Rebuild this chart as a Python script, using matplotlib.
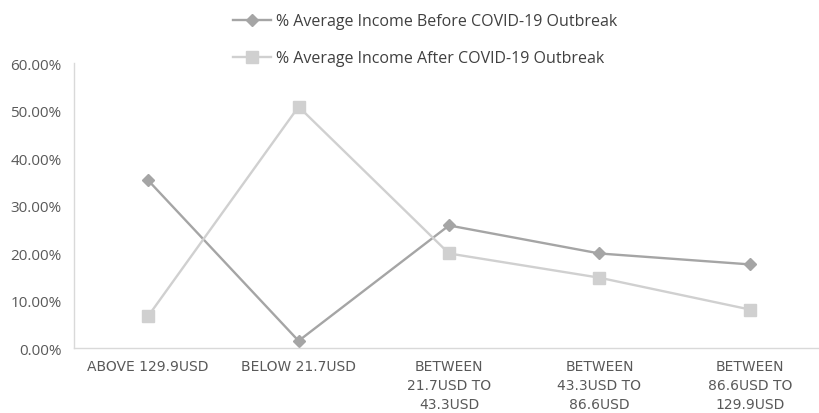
import numpy as np
import matplotlib.pyplot as plt

categories = ["ABOVE 129.9USD", "BELOW 21.7USD", "BETWEEN\n21.7USD TO\n43.3USD",
              "BETWEEN\n43.3USD TO\n86.6USD", "BETWEEN\n86.6USD TO\n129.9USD"]
before = [35.3, 1.5, 25.8, 19.9, 17.6]
after = [6.7, 50.8, 19.9, 14.8, 8.1]
yticks = [0, 10, 20, 30, 40, 50, 60]

txt = "#595959"
fig = plt.figure(figsize=(8.2, 4.14), dpi=100)
ax = fig.add_axes([0.0902, 0.157, 0.9098, 0.6884])

x = np.arange(len(categories))
l1, = ax.plot(x, before, color="#A5A5A5", lw=1.7, marker="D", ms=6,
              label="% Average Income Before COVID-19 Outbreak")
l2, = ax.plot(x, after, color="#D0D0D0", lw=1.7, marker="s", ms=8,
              label="% Average Income After COVID-19 Outbreak")

ax.set_xlim(-0.493, 4.466)
ax.set_ylim(0, 60)
ax.set_yticks(yticks)
ax.set_yticklabels([f"{v:.2f}%" for v in yticks], fontsize=11,
                   color=txt, family="Open Sans")
ax.set_xticks(x)
ax.set_xticklabels(categories, fontsize=10, color=txt, linespacing=1.45,
                   family="DejaVu Sans")
ax.tick_params(length=0, pad=9)
ax.tick_params(axis="x", pad=8)

for s in ["top", "right"]:
    ax.spines[s].set_visible(False)
for s in ["left", "bottom"]:
    ax.spines[s].set_color("#D9D9D9")
    ax.spines[s].set_linewidth(1)

leg = fig.legend(handles=[l1, l2], loc="upper left", bbox_to_anchor=(0.2666, 1.0),
                 frameon=False, ncol=1, handlelength=2.4, handletextpad=0.3,
                 labelspacing=1.3, prop={"family": "Open Sans", "size": 11.5})
for t in leg.get_texts():
    t.set_color("#404040")

fig.savefig("out.png", dpi=100)
